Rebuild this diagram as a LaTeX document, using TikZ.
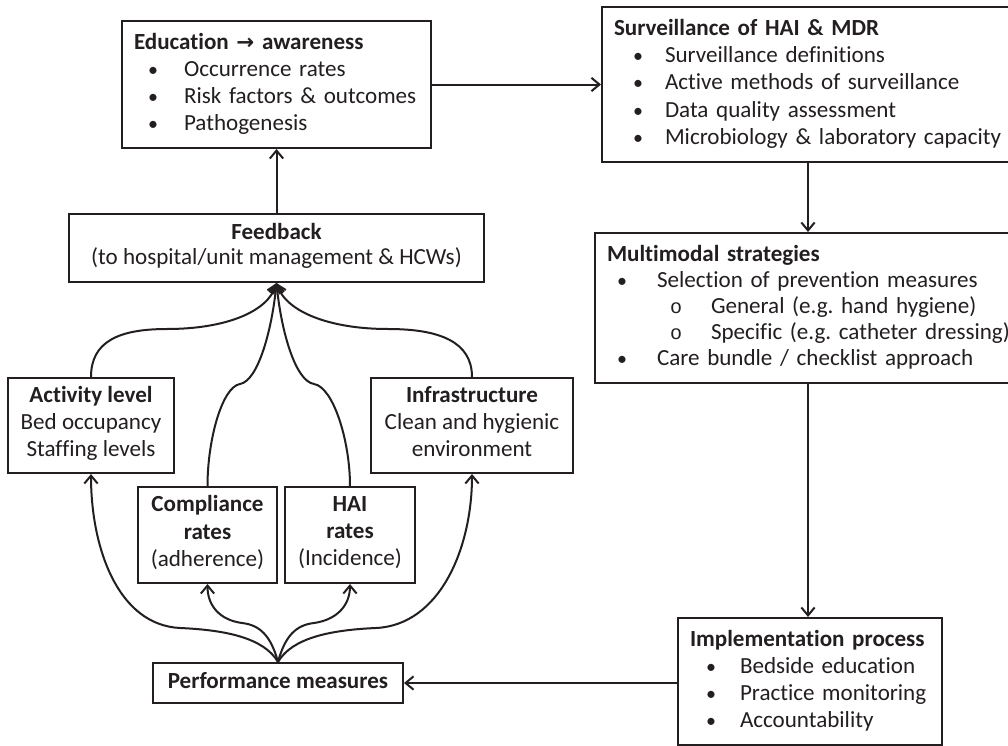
\documentclass[tikz,border=0pt]{standalone}
\usepackage{fontspec}
\setmainfont{Carlito}[Ligatures=NoCommon]
\newfontfamily\cour{Liberation Mono}
\newfontfamily\dejavu{DejaVu Sans}
\usetikzlibrary{arrows.meta}
\newlength\px \setlength\px{0.75pt}
\definecolor{ink}{HTML}{231F20}
\newcommand\bl[3]{\mbox{\hspace*{#1\px}\makebox[0pt]{\fontsize{15pt}{15pt}\selectfont •}\hspace*{#2\px}#3}}
\newcommand\subb[3]{\mbox{\hspace*{#1\px}\makebox[0pt]{\cour\fontsize{15pt}{15pt}\selectfont o}\hspace*{#2\px}#3}}
\frenchspacing
\begin{document}
\begin{tikzpicture}[x=0.75pt,y=-0.75pt,
  box/.style={draw=ink, line width=1.5pt, text=ink, inner ysep=0pt,
    font=\fontsize{17.3pt}{20.4pt}\selectfont\frenchspacing,
    execute at begin node=\strut, execute at end node=\strut},
  lbox/.style={box, align=left},
  cbox/.style={box, align=center, inner xsep=0pt},
  arr/.style={draw=ink, line width=1.5pt, -{Straight Barb[length=6pt,width=10pt,line width=1.5pt]}},
  conn/.style={draw=ink, line width=1.5pt}]
\fill[white] (0,0) rectangle (1008,746);
\useasboundingbox (0,0) rectangle (1008,746);

% left-aligned boxes
\node[lbox, text width=285\px, inner xsep=12\px, minimum height=127\px] (edu) at (276.5,84.5)
  {\mbox{\textbf{Education {\dejavu\bfseries\fontsize{16pt}{17pt}\selectfont →} awareness}}\\
   \bl{19}{31}{Occurrence rates}\\
   \bl{19}{31}{Risk factors \& outcomes}\\
   \bl{19}{31}{Pathogenesis}};

\node[lbox, text width=388\px, inner xsep=12\px, minimum height=155\px] (surv) at (808,84.5)
  {\mbox{\textbf{Surveillance of HAI \& MDR}}\\
   \bl{24}{27}{Surveillance definitions}\\
   \bl{24}{27}{Active methods of surveillance}\\
   \bl{24}{27}{Data quality assessment}\\
   \bl{24}{27}{Microbiology \& laboratory capacity}};

\node[lbox, text width=402\px, inner xsep=12\px, minimum height=150\px] (multi) at (808,308)
  {\mbox{\textbf{Multimodal strategies}}\\[-1\px]
   \bl{15}{35}{Selection of prevention measures}\\[-1\px]
   \subb{69}{35}{General (e.g. hand hygiene)}\\[-1\px]
   \subb{69}{35}{Specific (e.g. catheter dressing)}\\[-1\px]
   \bl{15}{35}{Care bundle / checklist approach}};

\node[lbox, text width=240\px, inner xsep=12\px, minimum height=127\px] (impl) at (810,681.5)
  {\mbox{\textbf{Implementation process}}\\
   \bl{21}{29}{Bedside education}\\
   \bl{21}{29}{Practice monitoring}\\
   \bl{21}{29}{Accountability}};

% centred boxes
\node[cbox, minimum width=415\px, minimum height=68\px] (fb) at (276.5,248)
  {\textbf{Feedback}\\[-1.5pt](to hospital/unit management \& HCWs)};
\node[cbox, minimum width=166\px, minimum height=95\px] (act) at (91,425.5)
  {\textbf{Activity level}\\Bed occupancy\\Staffing levels};
\node[cbox, minimum width=202\px, minimum height=95\px] (infra) at (472,425.5)
  {\textbf{Infrastructure}\\Clean and hygienic\\environment};
\node[cbox, minimum width=139\px, minimum height=96\px] (comp) at (207.5,535)
  {\textbf{Compliance}\\\textbf{rates}\\(adherence)};
\node[cbox, minimum width=130\px, minimum height=96\px] (hai) at (350,535)
  {\textbf{HAI}\\\textbf{rates}\\(Incidence)};
\node[cbox, minimum width=250\px, minimum height=40\px] (perf) at (278,683)
  {\textbf{Performance measures}};

% straight connectors
\draw[arr] (edu.east) -- (edu.east -| surv.west);
\draw[arr] (surv.south) -- (surv.south |- multi.north);
\draw[arr] (multi.south) -- (multi.south |- impl.north);
\draw[arr] (fb.north) -- (edu.south);
\draw[arr] (impl.west |- perf.east) -- (perf.east);

% curves up to feedback
\draw[arr] (act.north) .. controls (91,342) and (118,329) .. (167,329)
  .. controls (225,329) and (268,312) .. (fb.south);
\draw[arr] (infra.north) .. controls (472,342) and (440,329) .. (388,329)
  .. controls (330,329) and (286,312) .. (fb.south);
\draw[arr] (comp.north) .. controls (207.5,440) and (222,387) .. (240,384)
  .. controls (258,381) and (272,330) .. (fb.south);
\draw[arr] (hai.north) .. controls (350,440) and (333,387) .. (314,384)
  .. controls (295,381) and (281,330) .. (fb.south);

% curves from performance measures
\draw[arr] (perf.north) .. controls (264,638) and (226,630) .. (180,628)
  .. controls (118,625) and (91,548) .. (act.south);
\draw[arr] (perf.north) .. controls (292,638) and (330,630) .. (376,628)
  .. controls (440,625) and (472,548) .. (infra.south);
\draw[arr] (perf.north) .. controls (271,636) and (260,625) .. (242,623)
  .. controls (220,620) and (207.5,606) .. (comp.south);
\draw[arr] (perf.north) .. controls (285,636) and (296,625) .. (314,623)
  .. controls (336,620) and (350,606) .. (hai.south);
\end{tikzpicture}
\end{document}
